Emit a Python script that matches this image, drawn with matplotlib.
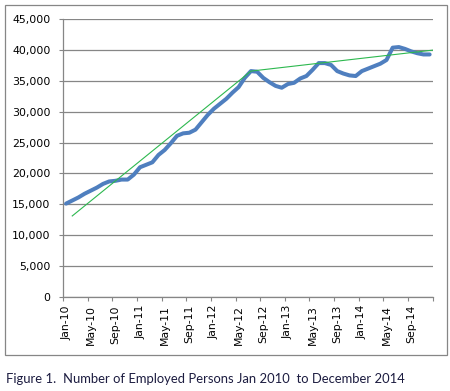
import matplotlib
matplotlib.use("Agg")
import matplotlib.pyplot as plt
from matplotlib.patches import Rectangle
from matplotlib.ticker import FuncFormatter, MultipleLocator
import numpy as np

# ------------------------------------------------------------------
# data (thousands of persons, monthly)
# ------------------------------------------------------------------
years = [2010, 2011, 2012, 2013, 2014]
month_names = ['Jan', 'Feb', 'Mar', 'Apr', 'May', 'Jun',
               'Jul', 'Aug', 'Sep', 'Oct', 'Nov', 'Dec']
months = [f'{m}-{str(y)[2:]}' for y in years for m in month_names]

employed = [
    15100, 15600, 16100, 16700, 17200, 17700, 18300, 18700, 18800, 19000, 19000, 19800,
    21000, 21400, 21800, 23000, 23800, 24900, 26100, 26500, 26600, 27100, 28300, 29500,
    30500, 31300, 32100, 33100, 34000, 35500, 36600, 36500, 35500, 34800, 34200, 33900,
    34500, 34700, 35400, 35800, 36800, 37900, 37900, 37600, 36600, 36200, 35900, 35800,
    36600, 37000, 37400, 37800, 38400, 40400, 40500, 40200, 39800, 39500, 39300, 39300,
]

# hand drawn trend lines (month index, value)
trend_months = [1.0, 30.0, 59.5]
trend_values = [13100, 36600, 40000]

caption = "Figure 1.  Number of Employed Persons Jan 2010  to December 2014"

# ------------------------------------------------------------------
# plot
# ------------------------------------------------------------------
fig = plt.figure(figsize=(4.5, 3.91), dpi=100)
ax = fig.add_axes([0.14, 0.2412, 0.8216, 0.7094])

grey = '#868686'
x = np.arange(len(months))

ax.plot(x, employed, color='#4F7FBF', lw=2.9, solid_joinstyle='round',
        solid_capstyle='round', zorder=3)
ax.plot(trend_months, trend_values, color='#2DB84F', lw=0.8, zorder=4)

ax.set_xlim(-0.5, len(months) - 0.5)
ax.set_ylim(0, 45000)
ax.yaxis.set_major_locator(MultipleLocator(5000))
ax.yaxis.set_major_formatter(FuncFormatter(lambda v, p: f'{int(v):,}'))

# ticks between categories, labels every 4 months
ax.set_xticks(np.arange(0, len(months) + 1, 4) - 0.5)
ax.set_xticklabels([''] * len(ax.get_xticks()))
ax.set_xticks(np.arange(0, len(months), 4), minor=True)
ax.set_xticklabels(months[::4], minor=True, rotation=90, fontsize=7.8)
ax.tick_params(axis='x', which='minor', length=0, pad=6)
ax.tick_params(axis='x', which='major', length=3, color=grey, width=0.8)
ax.tick_params(axis='y', length=3, color=grey, width=0.8, labelsize=7.9, pad=6)

ax.grid(axis='y', color=grey, lw=0.9)
ax.set_axisbelow(True)
for side in ['top', 'right']:
    ax.spines[side].set_visible(False)
for side in ['left', 'bottom']:
    ax.spines[side].set_color(grey)
    ax.spines[side].set_linewidth(0.9)

# chart frame
fig.patches.append(Rectangle((0.0111, 0.0921), 0.9822, 0.8951, transform=fig.transFigure,
                             fill=False, edgecolor=grey, lw=0.9))

fig.text(0.0133, 0.0307, caption, ha='left', va='center', fontsize=9.4,
         family='Lato', color='#1C1C40')

fig.savefig('out.png', dpi=100)
